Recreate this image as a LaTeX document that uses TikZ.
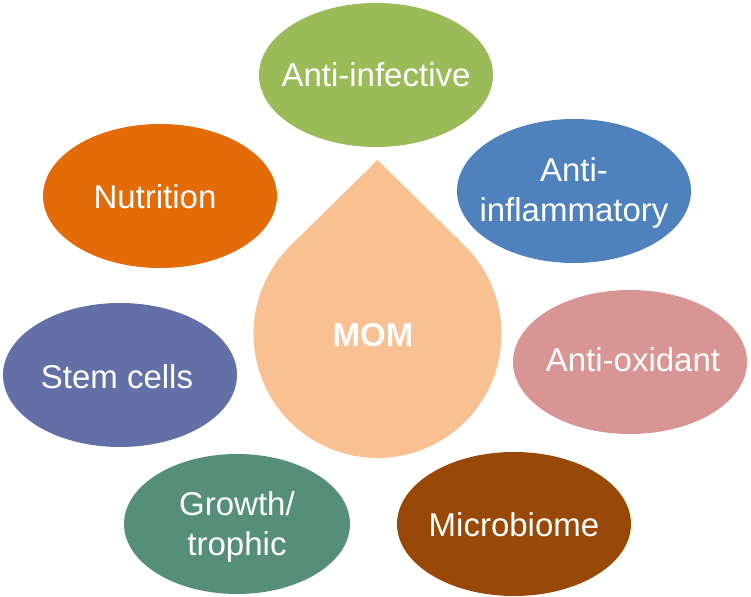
\documentclass[tikz,border=0pt]{standalone}
\usepackage{fontspec}
\setmainfont{Liberation Sans}
\definecolor{cInf}{HTML}{9BBB59}
\definecolor{cInfl}{HTML}{4F81BD}
\definecolor{cOx}{HTML}{D99594}
\definecolor{cMic}{HTML}{984807}
\definecolor{cGro}{HTML}{558F79}
\definecolor{cStem}{HTML}{6370A8}
\definecolor{cNut}{HTML}{E36C09}
\definecolor{cDrop}{HTML}{F9C091}
\tikzset{
  blob/.style={x radius=117pt, y radius=72pt},
  lbl/.style={text=white, align=center, inner sep=0pt, font=\fontsize{33}{40}\selectfont}
}
\begin{document}
\begin{tikzpicture}[x=1pt,y=1pt]
\fill[white] (0,0) rectangle (751,596);
\useasboundingbox (0,0) rectangle (751,596);
% drop
\fill[cDrop] (377.5,436) -- (464.5,350.4) arc[start angle=45.45, end angle=-225.45, radius=124] -- cycle;
\node[lbl, font=\fontsize{33}{40}\selectfont\bfseries] (mom) at (373,261) {MOM};
% ellipses
\fill[cInf] (376,521) ellipse [blob];
\node[lbl] (inf) at (376,521) {Anti-infective};
\fill[cInfl] (574,405) ellipse [blob];
\node[lbl] (infl) at (574,403) {Anti-\\inflammatory};
\fill[cOx] (630,234) ellipse [blob];
\node[lbl] (ox) at (633,236) {Anti-oxidant};
\fill[cMic] (514,72) ellipse [blob];
\node[lbl] (mic) at (514,71) {Microbiome};
\fill[cGro] (237,72) ellipse [x radius=113pt, y radius=70pt];
\node[lbl] (gro) at (237,69) {Growth/\\trophic};
\fill[cStem] (120,221) ellipse [blob];
\node[lbl] (stem) at (117,219) {Stem cells};
\fill[cNut] (160,400) ellipse [blob];
\node[lbl] (nut) at (155,399) {Nutrition};
\end{tikzpicture}
\end{document}
